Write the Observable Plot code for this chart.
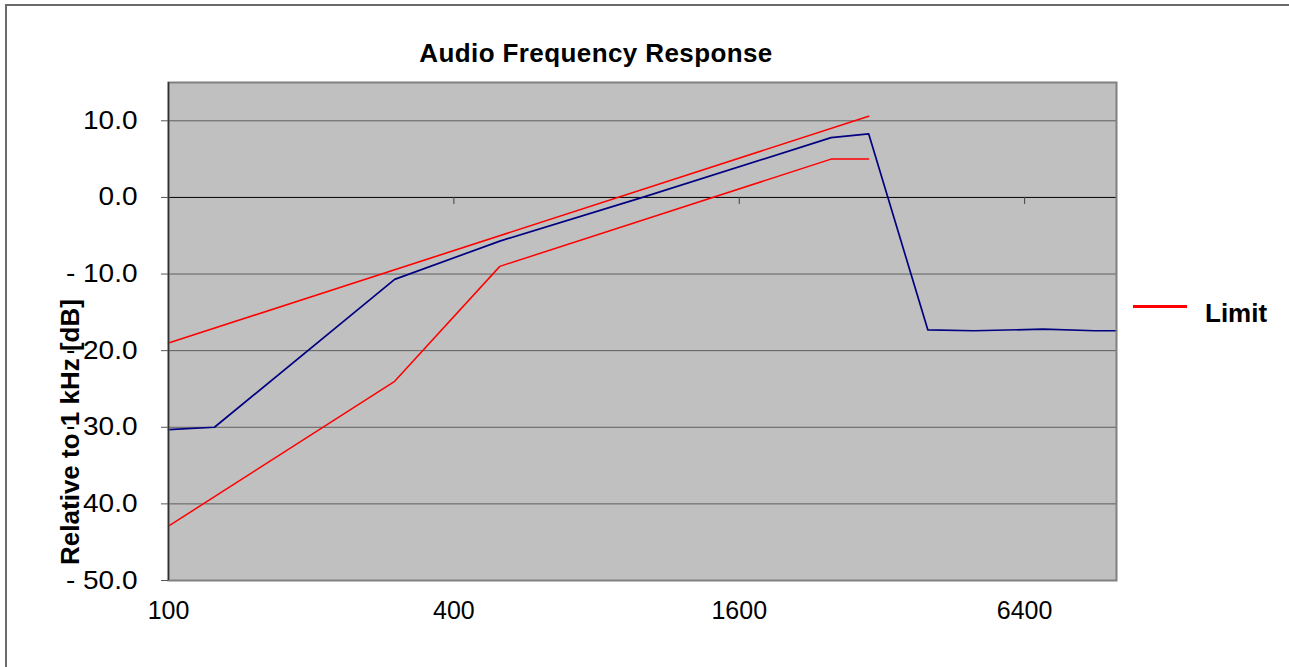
<!DOCTYPE html>
<html>
<head>
<meta charset="utf-8">
<script src="https://cdn.jsdelivr.net/npm/d3@7"></script>
<script src="https://cdn.jsdelivr.net/npm/@observablehq/plot@0.6"></script>
<style>
  html, body { margin: 0; padding: 0; background: #fff; }
  #wrap { position: relative; width: 1289px; height: 667px; overflow: hidden; font-family: "Liberation Sans", Arial, sans-serif; }
  #border { position: absolute; left: 5px; top: 4px; width: 1300px; height: 700px; border-left: 2px solid #6b6b6b; border-top: 2px solid #6b6b6b; }
  .lbl { position: absolute; white-space: nowrap; font-weight: bold; font-size: 26px; line-height: 26px; color: #000; }
  #title { left: 596px; top: 40px; transform: translateX(-50%); letter-spacing: 0.4px; }
  #ylabel { left: 70px; top: 432px; transform: translate(-50%, -50%) rotate(-90deg); }
  #legline { position: absolute; left: 1133px; top: 305px; width: 54px; height: 3px; background: #ff0000; }
  #legtext { left: 1205px; top: 300px; }
  #chart { position: absolute; left: 0; top: 0; }
</style>
</head>
<body>
<div id="wrap">
  <div id="border"></div>
  <div id="chart"></div>
  <div class="lbl" id="title">Audio Frequency Response</div>
  <div class="lbl" id="ylabel">Relative to 1 kHz [dB]</div>
  <div id="legline"></div>
  <div class="lbl" id="legtext">Limit</div>
</div>
<script>
// ---- data ----
const freqTicks = [100, 400, 1600, 6400];
const dbTicks = [-50, -40, -30, -20, -10, 0, 10];
const freqDomain = [100, 10000];
const dbDomain = [-50, 15];

const measuredFreq = [100, 125, 300, 500, 1000, 2500, 3000, 4000, 5000, 7000, 9000, 10000];
const measuredDb   = [-30.3, -30.0, -10.7, -5.7, 0.0, 7.8, 8.3, -17.3, -17.4, -17.2, -17.4, -17.4];

const upperLimitFreq = [100, 3000];
const upperLimitDb   = [-19.0, 10.6];

const lowerLimitFreq = [100, 300, 500, 2500, 3000];
const lowerLimitDb   = [-42.9, -24.0, -9.0, 5.0, 5.0];

const toTable = (fs, ds) => fs.map((f, i) => ({f, db: ds[i]}));
const measured = toTable(measuredFreq, measuredDb);
const upper = toTable(upperLimitFreq, upperLimitDb);
const lower = toTable(lowerLimitFreq, lowerLimitDb);

const fmtDb = d => d < 0 ? "- " + Math.abs(d).toFixed(1) : d.toFixed(1);

const chart = Plot.plot({
  width: 1289,
  height: 667,
  marginLeft: 168,
  marginRight: 173,
  marginTop: 82,
  marginBottom: 87,
  style: { fontFamily: "'Liberation Sans', Arial, sans-serif", fontSize: "25px", background: "transparent", overflow: "visible" },
  x: { type: "log", domain: freqDomain, axis: null },
  y: { domain: dbDomain, axis: null },
  marks: [
    Plot.frame({ fill: "#c0c0c0" }),
    Plot.ruleY(dbTicks.filter(d => d !== 0 && d !== dbDomain[0]), { stroke: "#5e5e5e", strokeWidth: 1 }),
    Plot.ruleY([0], { stroke: "#000", strokeWidth: 1 }),
    Plot.ruleX(freqTicks.slice(1), { x: d => d, y1: 0, y2: 0, insetTop: 7, insetBottom: 0, stroke: "#404040", strokeWidth: 1 }),
    Plot.line(upper, { x: "f", y: "db", stroke: "#ff0000", strokeWidth: 1.6 }),
    Plot.line(lower, { x: "f", y: "db", stroke: "#ff0000", strokeWidth: 1.5 }),
    Plot.line(measured, { x: "f", y: "db", stroke: "#000080", strokeWidth: 1.7 }),
    Plot.frame({ stroke: "#808080", strokeWidth: 2 }),
    Plot.ruleX([freqDomain[0]], { stroke: "#303030", strokeWidth: 1.5 }),
    Plot.axisY({ ticks: dbTicks, tickSize: 7, tickPadding: 24, tickFormat: fmtDb, stroke: "#555", fill: "#000", fontSize: 25, label: null }),
    Plot.text(freqTicks, { x: d => d, frameAnchor: "bottom", dy: 21, lineAnchor: "top", text: d => String(d), fontSize: 25, fill: "#000", ariaLabel: "x tick labels" })
  ]
});
document.getElementById("chart").appendChild(chart);

function stretch(sel, sx) {
  chart.querySelectorAll(sel).forEach(t => {
    const tr = t.getAttribute("transform");
    if (tr && tr.includes("translate")) {
      t.setAttribute("transform", tr + ` scale(${sx} 1)`);
    } else {
      const x = +(t.getAttribute("x") || 0), y = +(t.getAttribute("y") || 0);
      t.setAttribute("x", 0); t.setAttribute("y", 0);
      t.setAttribute("transform", (tr || "") + ` translate(${x},${y}) scale(${sx} 1)`);
    }
  });
}
stretch('g[aria-label="x tick labels"] text', 1.12);
stretch('g[aria-label="y-axis tick label"] text', 1.12);
</script>
</body>
</html>
